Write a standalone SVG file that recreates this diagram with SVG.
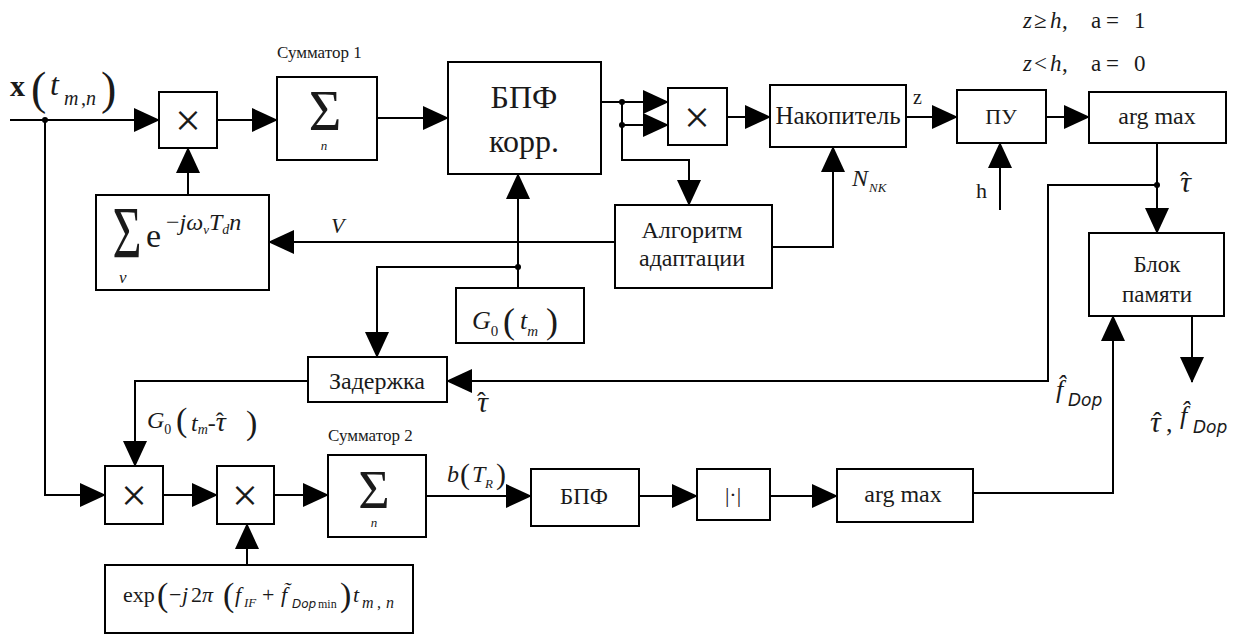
<svg xmlns="http://www.w3.org/2000/svg" width="1237" height="634" viewBox="0 0 1237 634">
<style>
.ln{stroke:#000;stroke-width:2;fill:none}
.bx{fill:#fff;stroke:#000;stroke-width:2}
.t{font-family:"Liberation Serif","Times New Roman",Tinos,"Noto Serif","DejaVu Serif",serif;fill:#1a1a1a}
.c{text-anchor:middle}
.i{font-style:italic}
.s{font-family:"DejaVu Sans","Liberation Sans",sans-serif;font-style:italic;fill:#1a1a1a}
.dot{fill:#000}
</style>
<defs>
<marker id="a" markerWidth="26" markerHeight="24" refX="25" refY="12" orient="auto" markerUnits="userSpaceOnUse"><path d="M0,0 L26,12 L0,24 Z" fill="#000"/></marker>
</defs>
<rect width="1237" height="634" fill="#fff"/>
<g id="connectors">
<path class="ln" d="M10,120 H159" marker-end="url(#a)"/>
<path class="ln" d="M217,120 H277" marker-end="url(#a)"/>
<path class="ln" d="M377,118 H448" marker-end="url(#a)"/>
<path class="ln" d="M188,195 V148" marker-end="url(#a)"/>
<path class="ln" d="M615,242 H269" marker-end="url(#a)"/>
<path class="ln" d="M518,288 V174" marker-end="url(#a)"/>
<path class="ln" d="M518,267 H377 V357" marker-end="url(#a)"/>
<path class="ln" d="M601,102 H668" marker-end="url(#a)"/>
<path class="ln" d="M622,102 V125 H668" marker-end="url(#a)"/>
<path class="ln" d="M622,125 V160 H689 V205" marker-end="url(#a)"/>
<path class="ln" d="M727,117 H770" marker-end="url(#a)"/>
<path class="ln" d="M772,247 H833 V147" marker-end="url(#a)"/>
<path class="ln" d="M906,117 H957" marker-end="url(#a)"/>
<path class="ln" d="M1046,117 H1089" marker-end="url(#a)"/>
<path class="ln" d="M1000,210 V143" marker-end="url(#a)"/>
<path class="ln" d="M1157,143 V233" marker-end="url(#a)"/>
<path class="ln" d="M1157,185 H1048 V381 H447" marker-end="url(#a)"/>
<path class="ln" d="M1192,316 V382" marker-end="url(#a)"/>
<path class="ln" d="M45,120 V495 H105" marker-end="url(#a)"/>
<path class="ln" d="M308,381 H135 V466" marker-end="url(#a)"/>
<path class="ln" d="M163,495 H217" marker-end="url(#a)"/>
<path class="ln" d="M274,495 H328" marker-end="url(#a)"/>
<path class="ln" d="M247,565 V524" marker-end="url(#a)"/>
<path class="ln" d="M426,496 H531" marker-end="url(#a)"/>
<path class="ln" d="M639,496 H697" marker-end="url(#a)"/>
<path class="ln" d="M770,496 H837" marker-end="url(#a)"/>
<path class="ln" d="M973,493 H1113 V316" marker-end="url(#a)"/>
<circle class="dot" cx="45" cy="120" r="3"/>
<circle class="dot" cx="518" cy="267" r="3"/>
<circle class="dot" cx="622" cy="102" r="3"/>
<circle class="dot" cx="622" cy="125" r="3"/>
<circle class="dot" cx="1157" cy="185" r="3"/>
</g>
<g id="labels">
<text class="t" x="10" y="96" font-size="30" font-weight="bold">x</text>
<text class="t" x="31" y="104" font-size="46" font-weight="100">(</text>
<text class="t i" x="50" y="95" font-size="32">t</text>
<text class="t i" x="64" y="105" font-size="20">m</text>
<text class="t" x="81" y="105" font-size="20">,</text>
<text class="t i" x="86" y="105" font-size="20">n</text>
<text class="t" x="101" y="104" font-size="46" font-weight="100">)</text>
<text class="t" x="277" y="58" font-size="17">Сумматор 1</text>
<text class="t i" x="331" y="233" font-size="22">V</text>
<text class="t i" x="852" y="186" font-size="24">N</text>
<text class="t i" x="869" y="192" font-size="13">NK</text>
<text class="t" x="913" y="104" font-size="20">z</text>
<text class="t" x="976" y="198" font-size="22">h</text>
<text class="t" y="28" font-size="23"><tspan x="1023" class="i">z</tspan><tspan x="1034">≥</tspan><tspan x="1050" class="i">h</tspan><tspan x="1062">,</tspan><tspan x="1091">a</tspan><tspan x="1106">=</tspan><tspan x="1134">1</tspan></text>
<text class="t" y="71" font-size="23"><tspan x="1023" class="i">z</tspan><tspan x="1034">&lt;</tspan><tspan x="1050" class="i">h</tspan><tspan x="1062">,</tspan><tspan x="1091">a</tspan><tspan x="1106">=</tspan><tspan x="1134">0</tspan></text>
<text class="t" x="1180" y="192" font-size="30"><tspan class="i">τ</tspan><tspan dx="-11" dy="-2" font-size="26">ˆ</tspan></text>
<text class="t" x="477" y="412" font-size="30"><tspan class="i">τ</tspan><tspan dx="-11" dy="-2" font-size="26">ˆ</tspan></text>
<text class="t" y="398" font-size="26"><tspan x="1056" class="i">f̂</tspan><tspan x="1068" class="s" font-size="17" dy="8">Dop</tspan></text>
<text class="t" y="432" font-size="30"><tspan x="1150" class="i">τ</tspan><tspan x="1153" dy="-2" font-size="26">ˆ</tspan><tspan x="1166" dy="2" font-size="26">,</tspan><tspan x="1180" class="i" dy="-8" font-size="26">f̂</tspan><tspan x="1193" class="s" font-size="17" dy="9">Dop</tspan></text>
<text class="t" x="147" y="428" font-size="24"><tspan class="i">G</tspan><tspan font-size="14" dy="6">0</tspan><tspan x="176" dy="-3" font-size="34" font-weight="100">(</tspan><tspan x="191" dy="0" class="i">t</tspan><tspan class="i" font-size="14" dy="3">m</tspan><tspan dy="-3">-</tspan><tspan class="i" font-size="28">τ</tspan><tspan dx="-10" dy="-2">ˆ</tspan><tspan x="246" dy="5" font-size="34" font-weight="100">)</tspan></text>
<text class="t" x="328" y="441" font-size="17">Сумматор 2</text>
<text class="t i" x="447" y="482" font-size="24">b</text>
<text class="t" x="460" y="484" font-size="30" font-weight="100">(</text>
<text class="t i" x="472" y="482" font-size="24">T</text>
<text class="t i" x="485" y="488" font-size="13">R</text>
<text class="t" x="496" y="484" font-size="30" font-weight="100">)</text>
</g>
<g id="mult1"><rect class="bx" x="159" y="92" width="58" height="56"/><text class="t c" x="188" y="136" font-size="46">×</text></g>
<g id="sum1"><rect class="bx" x="277" y="77" width="100" height="83"/><text class="t c" x="325" y="130" font-size="56" font-weight="100">Σ</text><text class="t i c" x="324" y="150" font-size="13">n</text></g>
<g id="fftcorr"><rect class="bx" x="448" y="62" width="153" height="112"/><text class="t c" x="524" y="108" font-size="32">БПФ</text><text class="t c" x="524" y="152" font-size="32">корр.</text></g>
<g id="mult4"><rect class="bx" x="668" y="88" width="59" height="57"/><text class="t c" x="697" y="133" font-size="46">×</text></g>
<g id="accum"><rect class="bx" x="770" y="85" width="136" height="62"/><text class="t c" x="838" y="124" font-size="25">Накопитель</text></g>
<g id="pu"><rect class="bx" x="957" y="90" width="89" height="53"/><text class="t c" x="1001" y="124" font-size="22">ПУ</text></g>
<g id="argmax1"><rect class="bx" x="1089" y="92" width="137" height="51"/><text class="t c" x="1157" y="124" font-size="24">arg max</text></g>
<g id="expsum"><rect class="bx" x="96" y="195" width="173" height="95"/><text class="t c" font-size="50" font-weight="100" transform="translate(127,258) scale(1,1.5)">Σ</text><text class="t" x="146" y="247" font-size="34">e</text><text class="t" x="166" y="230" font-size="24">−<tspan class="i">j</tspan><tspan class="i">ω</tspan><tspan class="i" font-size="13" dy="4">v</tspan><tspan class="i" dy="-4">T</tspan><tspan class="i" font-size="14" dy="4">d</tspan><tspan class="i" dy="-4">n</tspan></text><text class="t i" x="119" y="283" font-size="17">v</text></g>
<g id="adapt"><rect class="bx" x="615" y="205" width="157" height="83"/><text class="t c" x="692" y="238" font-size="24">Алгоритм</text><text class="t c" x="692" y="266" font-size="24">адаптации</text></g>
<g id="g0"><rect class="bx" x="456" y="288" width="128" height="55"/><text class="t" x="472" y="329" font-size="26"><tspan class="i">G</tspan><tspan font-size="15" dy="7">0</tspan><tspan x="503" dy="-3" font-size="36" font-weight="100">(</tspan><tspan x="520" dy="-4" class="i">t</tspan><tspan class="i" font-size="15" dy="7">m</tspan><tspan x="546" dy="-3" font-size="36" font-weight="100">)</tspan></text></g>
<g id="delay"><rect class="bx" x="308" y="357" width="139" height="45"/><text class="t c" x="377" y="389" font-size="24">Задержка</text></g>
<g id="memory"><rect class="bx" x="1089" y="233" width="135" height="83"/><text class="t c" x="1157" y="272" font-size="23">Блок</text><text class="t c" x="1157" y="302" font-size="23">памяти</text></g>
<g id="mult2"><rect class="bx" x="105" y="466" width="58" height="58"/><text class="t c" x="134" y="511" font-size="46">×</text></g>
<g id="mult3"><rect class="bx" x="217" y="466" width="57" height="58"/><text class="t c" x="245" y="511" font-size="46">×</text></g>
<g id="sum2"><rect class="bx" x="328" y="455" width="98" height="82"/><text class="t c" x="374" y="508" font-size="54" font-weight="100">Σ</text><text class="t i c" x="374" y="527" font-size="13">n</text></g>
<g id="fft2"><rect class="bx" x="531" y="469" width="108" height="57"/><text class="t c" x="584" y="504" font-size="23">БПФ</text></g>
<g id="abs"><rect class="bx" x="697" y="469" width="73" height="51"/><text class="t c" x="733" y="502" font-size="22">|·|</text></g>
<g id="argmax2"><rect class="bx" x="837" y="469" width="136" height="53"/><text class="t c" x="903" y="502" font-size="24">arg max</text></g>
<g id="expbox"><rect class="bx" x="105" y="565" width="308" height="68"/><text class="t" y="602" font-size="22"><tspan x="123">exp</tspan><tspan x="157" font-size="34" font-weight="100" dy="4">(</tspan><tspan x="169" dy="-4">−</tspan><tspan x="182" class="i">j</tspan><tspan x="191">2</tspan><tspan x="202" class="i">π</tspan><tspan x="223" font-size="34" font-weight="100" dy="4">(</tspan><tspan x="235" class="i" dy="-4">f</tspan><tspan x="244" class="i" font-size="13" dy="5">IF</tspan><tspan x="262" dy="-5">+</tspan><tspan x="281" class="i">f̃</tspan><tspan x="292" class="s" font-size="12" dy="6">Dop</tspan><tspan x="318" font-size="12">min</tspan><tspan x="340" font-size="34" font-weight="100" dy="-2">)</tspan><tspan x="353" class="i" dy="-4">t</tspan><tspan x="362" class="i" font-size="16" dy="6">m</tspan><tspan x="377" font-size="16">,</tspan><tspan x="386" class="i" font-size="16">n</tspan></text></g>
</svg>
